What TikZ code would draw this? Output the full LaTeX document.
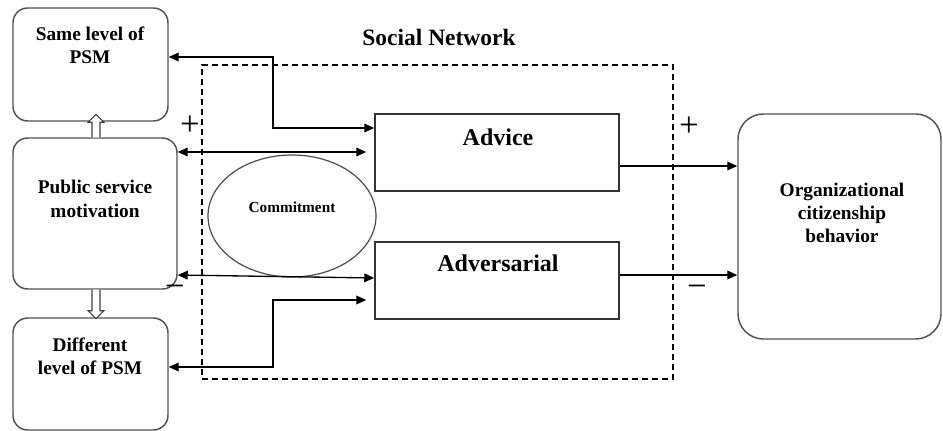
\documentclass[tikz,border=0pt]{standalone}
\usepackage{fontspec}
\setmainfont{Liberation Serif}
\usetikzlibrary{arrows.meta,fit,shapes.geometric,calc}
\begin{document}
\begin{tikzpicture}[x=0.75pt,y=-0.75pt,
  rbox/.style={draw=black!68,line width=1.1pt,rounded corners=11pt,inner sep=0pt},
  bigrbox/.style={rbox,rounded corners=19pt},
  sbox/.style={draw=black!80,line width=1.1pt,inner sep=0pt},
  netbox/.style={draw=black,line width=1pt,dash pattern=on 4.5pt off 3pt,inner sep=0pt},
  lbl/.style={font=\fontsize{14.5}{17.5}\selectfont\bfseries,align=center,inner sep=0pt},
  biglbl/.style={font=\fontsize{18}{20}\selectfont\bfseries,inner sep=0pt},
  sign/.style={font=\fontsize{26}{26}\selectfont,inner sep=0pt,anchor=base},
  conn/.style={draw=black,line width=1pt},
  hollow/.style={draw=black!75,line width=0.8pt,fill=white,line join=miter},
  >={Triangle[length=7.5pt,width=6.5pt]}
]
\useasboundingbox (0,0) rectangle (943,431);

% corner coordinates
\coordinate (sA) at (13,8);   \coordinate (sB) at (168,121);
\coordinate (pA) at (13,138); \coordinate (pB) at (177,289);
\coordinate (dA) at (13,318); \coordinate (dB) at (168,430);
\coordinate (aA) at (375,114);\coordinate (aB) at (619,191);
\coordinate (vA) at (375,242);\coordinate (vB) at (619,319);
\coordinate (oA) at (738,114);\coordinate (oB) at (941,339);
\coordinate (nA) at (202,65); \coordinate (nB) at (673,379);

\node[netbox,fit=(nA)(nB)] (net) {};
\node[rbox,fit=(sA)(sB)] (same) {};
\node[rbox,fit=(pA)(pB)] (psm) {};
\node[rbox,fit=(dA)(dB)] (diff) {};
\node[sbox,fit=(aA)(aB)] (advice) {};
\node[sbox,fit=(vA)(vB)] (adv) {};
\node[bigrbox,fit=(oA)(oB)] (ocb) {};
\node[ellipse,draw=black!70,line width=0.9pt,minimum width=126pt,minimum height=91.5pt,inner sep=0pt] (commit) at (292,216) {};

% texts
\node[lbl] (tsame) at (90,45) {Same level of\\PSM};
\node[lbl] (tpsm) at (95,199) {Public service\\motivation};
\node[lbl] (tdiff) at (90,356) {Different\\level of PSM};
\node[lbl,font=\fontsize{17.6}{20}\selectfont\bfseries] (tnet) at (439,37) {Social Network};
\node[biglbl] (tadvice) at (498,137) {Advice};
\node[biglbl] (tadv) at (498,263) {Adversarial};
\node[lbl,font=\fontsize{11.5}{13}\selectfont\bfseries] (tcommit) at (292,207) {Commitment};
\node[lbl,font=\fontsize{14.5}{17.2}\selectfont\bfseries] (tocb) at (842,213) {Organizational\\citizenship\\behavior};

% signs
\node[sign] (plusL) at (190,136) {+};
\node[sign] (minusL) at (175,297) {−};
\node[sign] (plusR) at (689,137) {+};
\node[sign] (minusR) at (697,297) {−};

% hollow arrows
\coordinate (ax) at (96,0);
\filldraw[hollow] ($(psm.north -| ax)+(-4,0)$) -- ++(0,-15) -- ++(-4,0) -- ++(8,-8) -- ++(8,8) -- ++(-4,0) -- ++(0,15);
\filldraw[hollow] ($(psm.south -| ax)+(-4,0)$) -- ++(0,21) -- ++(-4,0) -- ++(8,8) -- ++(8,-8) -- ++(-4,0) -- ++(0,-21);

% connectors
\coordinate (j1) at (273,57);  \coordinate (j2) at (273,128);
\draw[conn,<->] (same.east |- j1) -- (j1) -- (j2) -- (advice.west |- j2);

\coordinate (k1) at (0,152);
\draw[conn,<->,shorten >=6pt] (psm.east |- k1) -- (advice.west |- k1);

\coordinate (k2) at (0,275); \coordinate (k3) at (0,278);
\draw[conn,<->] (psm.east |- k2) -- (adv.west |- k3);

\coordinate (m1) at (273,367); \coordinate (m2) at (273,300);
\draw[conn,<->,shorten >=6pt] (diff.east |- m1) -- (m1) -- (m2) -- (adv.west |- m2);

\coordinate (n1) at (0,166); \coordinate (n2) at (0,275);
\draw[conn,->] (advice.east |- n1) -- (ocb.west |- n1);
\draw[conn,->] (adv.east |- n2) -- (ocb.west |- n2);
\end{tikzpicture}
\end{document}
